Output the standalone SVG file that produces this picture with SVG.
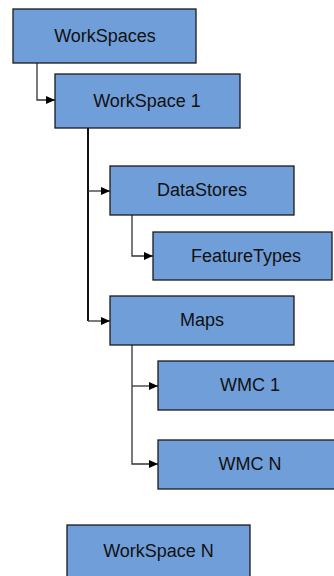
<svg xmlns="http://www.w3.org/2000/svg" width="334" height="576" viewBox="0 0 334 576">
<style>
.box{fill:#709ed9;stroke:#1a1a1a;stroke-width:1.3}
.lbl{font-family:"Liberation Sans",Arial,sans-serif;font-size:18px;fill:#111;text-anchor:middle}
.c{fill:none;stroke:#333;stroke-width:1.3}
.cm{fill:none;stroke:#111;stroke-width:2}
</style>
<defs>
<marker id="ah" markerWidth="9" markerHeight="8" refX="9" refY="4" orient="auto" markerUnits="userSpaceOnUse">
<path d="M0,0 L9,4 L0,8 Z" fill="#000"/>
</marker>
</defs>
<rect width="334" height="576" fill="#fff"/>
<g id="connectors">
<path class="c" d="M37,63 V100 H55" marker-end="url(#ah)"/>
<path class="cm" d="M88,128 V321"/>
<path class="c" d="M88,191 H110" marker-end="url(#ah)"/>
<path class="c" d="M88,321 H110" marker-end="url(#ah)"/>
<path class="c" d="M132,215 V256 H153" marker-end="url(#ah)"/>
<path class="c" d="M132,345 V464 H158" marker-end="url(#ah)"/>
<path class="c" d="M132,386 H158" marker-end="url(#ah)"/>
</g>
<g id="workspaces"><rect class="box" x="13" y="9" width="183" height="54"/><text class="lbl" x="105" y="42">WorkSpaces</text></g>
<g id="workspace1"><rect class="box" x="55" y="74" width="185" height="54"/><text class="lbl" x="147" y="107">WorkSpace 1</text></g>
<g id="datastores"><rect class="box" x="110" y="166" width="184" height="49"/><text class="lbl" x="202" y="196">DataStores</text></g>
<g id="featuretypes"><rect class="box" x="153" y="232" width="179" height="48"/><text class="lbl" x="246" y="262">FeatureTypes</text></g>
<g id="maps"><rect class="box" x="110" y="296" width="184" height="49"/><text class="lbl" x="202" y="326">Maps</text></g>
<g id="wmc1"><rect class="box" x="158" y="361" width="184" height="49"/><text class="lbl" x="250" y="391">WMC 1</text></g>
<g id="wmcn"><rect class="box" x="158" y="440" width="184" height="49"/><text class="lbl" x="250" y="470">WMC N</text></g>
<g id="workspacen"><rect class="box" x="67" y="525" width="183" height="60"/><text class="lbl" x="158.5" y="557">WorkSpace N</text></g>
</svg>
